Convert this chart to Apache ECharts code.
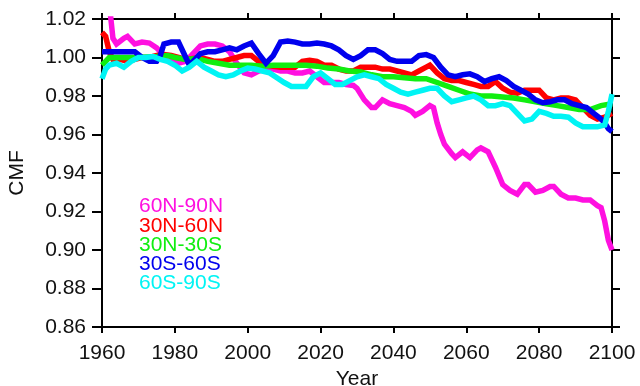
<!DOCTYPE html>
<html>
<head>
<meta charset="utf-8">
<script src="https://cdn.jsdelivr.net/npm/echarts@6/dist/echarts.min.js"></script>
<style>
html,body{margin:0;padding:0;background:#fff;}
#chart{width:640px;height:386px;}
</style>
</head>
<body>
<div id="chart"></div>
<script>
// Series names (legend text)
var seriesNames = ['60N-90N', '30N-60N', '30N-30S', '30S-60S', '60S-90S'];

// [year, CMF] pairs
var m60N90N = [
  [1960,1.050],[1961,1.040],[1962,1.028],[1963,1.010],[1964,1.007],[1966,1.010],[1967,1.011],
  [1969,1.007],[1971,1.008],[1973,1.0075],[1975,1.005],[1977,1.001],[1979,0.998],[1981,0.997],
  [1983,0.998],[1985,1.002],[1987,1.006],[1989,1.007],[1991,1.007],[1993,1.006],[1995,1.003],
  [1997,0.997],[1999,0.992],[2001,0.991],[2003,0.993],[2005,0.994],[2007,0.994],[2009,0.993],
  [2011,0.993],[2013,0.992],[2015,0.992],[2017,0.993],[2019,0.990],[2021,0.987],[2023,0.987],
  [2025,0.987],[2027,0.986],[2029,0.9855],[2030,0.984],[2032,0.978],[2034,0.974],[2035,0.974],
  [2037,0.978],[2039,0.976],[2041,0.975],[2043,0.974],[2045,0.972],[2046,0.970],[2048,0.972],
  [2050,0.975],[2051,0.974],[2052,0.966],[2053,0.960],[2054,0.955],[2056,0.950],[2057,0.948],
  [2059,0.951],[2061,0.948],[2063,0.952],[2064,0.953],[2066,0.951],[2068,0.943],[2070,0.934],
  [2072,0.931],[2074,0.929],[2076,0.934],[2077,0.934],[2079,0.930],[2081,0.931],[2083,0.933],
  [2084,0.933],[2086,0.929],[2088,0.927],[2090,0.927],[2092,0.926],[2094,0.926],[2096,0.923],
  [2097,0.922],[2098,0.915],[2099,0.905],[2100,0.900]
];
var r30N60N = [
  [1960,1.013],[1961,1.011],[1962,1.003],[1963,0.999],[1965,0.999],[1967,0.998],[1969,0.999],
  [1971,1.000],[1973,1.000],[1975,1.001],[1977,1.0015],[1979,1.001],[1981,1.000],[1983,0.999],
  [1985,0.9995],[1987,1.000],[1989,0.999],[1991,0.998],[1993,0.998],[1995,0.999],[1997,1.000],
  [1999,1.001],[2001,1.001],[2003,0.998],[2005,0.996],[2007,0.9955],[2009,0.995],[2011,0.995],
  [2013,0.995],[2015,0.998],[2017,0.9985],[2019,0.998],[2021,0.996],[2023,0.996],[2025,0.994],
  [2027,0.993],[2029,0.993],[2031,0.995],[2033,0.995],[2035,0.995],[2037,0.994],[2039,0.994],
  [2041,0.993],[2043,0.992],[2045,0.991],[2047,0.993],[2049,0.995],[2050,0.996],[2052,0.992],
  [2054,0.989],[2056,0.988],[2058,0.988],[2060,0.987],[2062,0.986],[2064,0.985],[2066,0.985],
  [2068,0.9875],[2070,0.984],[2072,0.982],[2074,0.9815],[2076,0.983],[2078,0.983],[2080,0.983],
  [2082,0.979],[2084,0.978],[2086,0.979],[2088,0.979],[2090,0.978],[2092,0.974],[2094,0.970],
  [2096,0.968],[2098,0.969],[2100,0.971]
];
var g30N30S = [
  [1960,0.996],[1961,0.998],[1962,1.000],[1965,1.000],[1970,1.000],[1975,1.0005],[1978,1.001],
  [1980,1.000],[1983,0.999],[1986,0.9995],[1989,0.998],[1992,0.997],[1995,0.996],[1998,0.996],
  [2001,0.996],[2004,0.9955],[2007,0.996],[2010,0.996],[2013,0.996],[2016,0.996],[2019,0.9955],
  [2022,0.9945],[2025,0.994],[2028,0.993],[2031,0.9925],[2034,0.991],[2037,0.990],[2040,0.990],
  [2043,0.9895],[2046,0.989],[2049,0.989],[2052,0.987],[2055,0.985],[2058,0.983],[2061,0.981],
  [2064,0.980],[2067,0.980],[2070,0.9795],[2073,0.979],[2076,0.978],[2079,0.977],[2082,0.976],
  [2085,0.975],[2088,0.974],[2091,0.973],[2094,0.973],[2097,0.975],[2100,0.976]
];
var b30S60S = [
  [1960,1.003],[1963,1.003],[1966,1.003],[1969,1.003],[1971,1.000],[1973,0.998],[1975,0.998],
  [1976,1.001],[1977,1.007],[1979,1.008],[1981,1.008],[1982,1.004],[1984,0.996],[1985,0.998],
  [1987,1.002],[1989,1.003],[1991,1.003],[1993,1.004],[1995,1.005],[1997,1.004],[1999,1.006],
  [2001,1.0075],[2003,1.002],[2005,0.997],[2007,1.001],[2009,1.008],[2011,1.0085],[2013,1.008],
  [2015,1.007],[2017,1.007],[2019,1.0075],[2021,1.007],[2023,1.006],[2025,1.004],[2027,1.001],
  [2029,0.999],[2031,1.001],[2033,1.004],[2035,1.004],[2037,1.002],[2039,0.999],[2041,0.998],
  [2043,0.998],[2045,0.998],[2047,1.001],[2049,1.0015],[2051,1.000],[2053,0.995],[2055,0.991],
  [2057,0.990],[2059,0.991],[2061,0.9915],[2063,0.990],[2065,0.9875],[2067,0.989],[2069,0.990],
  [2071,0.988],[2073,0.985],[2075,0.983],[2077,0.981],[2079,0.978],[2081,0.9765],[2083,0.977],
  [2085,0.978],[2087,0.978],[2089,0.976],[2091,0.975],[2093,0.974],[2095,0.971],[2097,0.968],
  [2098,0.966],[2099,0.963],[2100,0.9615]
];
var c60S90S = [
  [1960,0.989],[1961,0.994],[1962,0.996],[1964,0.997],[1966,0.995],[1968,0.998],[1970,1.000],
  [1972,1.000],[1974,1.0005],[1976,0.999],[1978,0.998],[1980,0.996],[1982,0.993],[1984,0.995],
  [1986,0.998],[1988,0.995],[1990,0.993],[1992,0.991],[1994,0.990],[1996,0.991],[1998,0.993],
  [2000,0.9945],[2002,0.994],[2004,0.993],[2006,0.992],[2008,0.9895],[2010,0.987],[2012,0.985],
  [2014,0.985],[2016,0.985],[2018,0.990],[2020,0.992],[2022,0.989],[2024,0.986],[2026,0.986],
  [2028,0.988],[2030,0.990],[2032,0.991],[2034,0.990],[2036,0.989],[2038,0.986],[2040,0.984],
  [2042,0.982],[2044,0.981],[2046,0.982],[2048,0.983],[2050,0.984],[2052,0.984],[2054,0.980],
  [2056,0.977],[2058,0.978],[2060,0.979],[2062,0.980],[2064,0.978],[2066,0.975],[2068,0.975],
  [2070,0.976],[2072,0.975],[2074,0.971],[2076,0.967],[2078,0.968],[2080,0.972],[2082,0.971],
  [2084,0.9695],[2086,0.9695],[2088,0.969],[2090,0.966],[2092,0.964],[2094,0.964],[2096,0.964],
  [2098,0.965],[2099,0.972],[2100,0.981]
];

var xMin = 1960, xMax = 2100, xStep = 20;
var yMin = 0.86, yMax = 1.02, yStep = 0.02;

var colors = ['#ff10e0', '#ff0000', '#10ee10', '#0000ee', '#00f4f4'];
var dataSets = [m60N90N, r30N60N, g30N30S, b30S60S, c60S90S];

var FONT = '"Liberation Sans", Arial, Helvetica, sans-serif';
var chart = echarts.init(document.getElementById('chart'), null, {renderer: 'canvas'});

var axisLine = {show: true, onZero: false, lineStyle: {color: '#000', width: 2}};

var option = {
  backgroundColor: '#fff',
  animation: false,
  grid: {left: 102, right: 28, top: 19, bottom: 59, containLabel: false, outerBoundsMode: 'none'},
  legend: {
    orient: 'vertical',
    left: 129,
    top: 191,
    itemWidth: 0,
    itemHeight: 0,
    itemGap: -1.7,
    icon: 'rect',
    selectedMode: false,
    textStyle: {fontFamily: FONT, fontSize: 21, padding: 0},
    data: seriesNames.map(function (n, i) {
      return {name: n, itemStyle: {opacity: 0}, textStyle: {color: colors[i]}};
    })
  },
  xAxis: [{
    type: 'value', min: xMin, max: xMax, interval: xStep, position: 'bottom',
    name: 'Year', nameLocation: 'middle', nameGap: 39,
    nameTextStyle: {fontFamily: FONT, fontSize: 21, color: '#111'},
    axisLine: axisLine,
    axisTick: {show: true, inside: false, length: 6, lineStyle: {color: '#000', width: 2}},
    axisLabel: {fontFamily: FONT, fontSize: 21, color: '#111', margin: 16,
      formatter: function (v) { return String(Math.round(v)); }},
    splitLine: {show: false}
  }, {
    type: 'value', min: xMin, max: xMax, interval: xStep, position: 'top',
    axisLine: axisLine,
    axisTick: {show: true, inside: false, length: 6, lineStyle: {color: '#000', width: 2}},
    axisLabel: {show: false},
    splitLine: {show: false}
  }],
  yAxis: [{
    type: 'value', min: yMin, max: yMax, interval: yStep, position: 'left',
    name: 'CMF', nameLocation: 'middle', nameGap: 74, nameRotate: 90,
    nameTextStyle: {fontFamily: FONT, fontSize: 21, color: '#111'},
    axisLine: axisLine,
    axisTick: {show: true, inside: false, length: 10, lineStyle: {color: '#000', width: 2}},
    axisLabel: {fontFamily: FONT, fontSize: 21, color: '#111', margin: 16,
      formatter: function (v) { return v.toFixed(2); }},
    splitLine: {show: false}
  }, {
    type: 'value', min: yMin, max: yMax, interval: yStep, position: 'right',
    axisLine: axisLine,
    axisTick: {show: true, inside: false, length: 8, lineStyle: {color: '#000', width: 2}},
    axisLabel: {show: false},
    splitLine: {show: false}
  }],
  series: seriesNames.map(function (n, i) {
    return {
      name: n, type: 'line', xAxisIndex: 0, yAxisIndex: 0,
      data: dataSets[i], showSymbol: false, symbol: 'none', clip: true,
      color: colors[i],
      lineStyle: {color: colors[i], width: 5.5, join: 'miter', cap: 'butt'},
      z: 2 + i
    };
  })
};
chart.setOption(option);
</script>
</body>
</html>
